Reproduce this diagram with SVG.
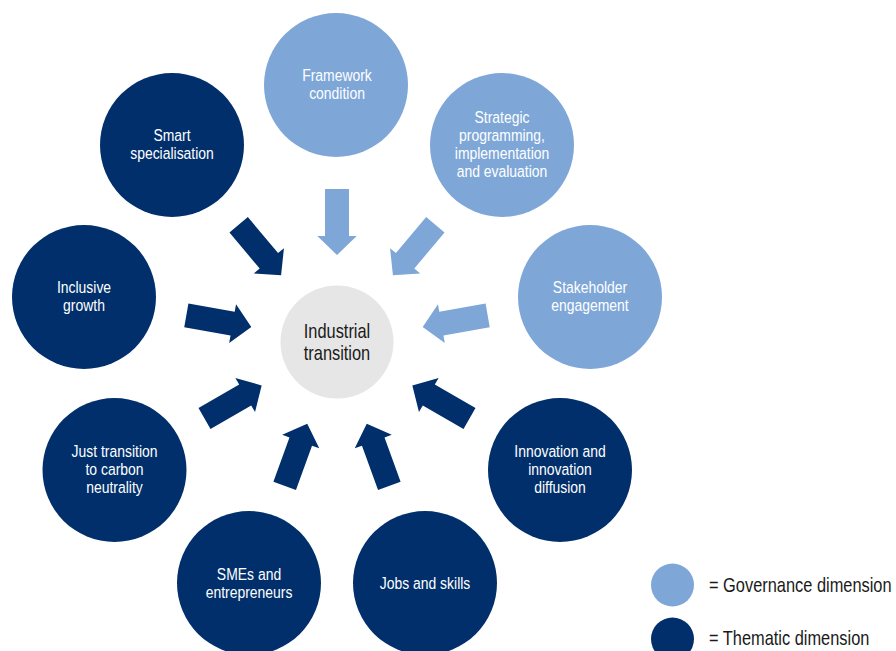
<svg xmlns="http://www.w3.org/2000/svg" xmlns:xlink="http://www.w3.org/1999/xlink" width="896" height="651" viewBox="0 0 896 651">
<style>
.dark{fill:#002F6C}
.light{fill:#7EA7D8}
.core{fill:#E6E6E6}
.t{font-family:"Liberation Sans",Arial,sans-serif;font-size:17px;fill:#FFFFFF;text-anchor:middle}
.tc{font-family:"Liberation Sans",Arial,sans-serif;font-size:20px;fill:#1A1A1A;text-anchor:middle}
.tl{font-family:"Liberation Sans",Arial,sans-serif;font-size:20px;fill:#1A1A1A}
</style>
<defs>
<path id="arw" d="M153,-12 L106,-12 L106,-19.7 L87,0 L106,19.7 L106,12 L153,12 Z"/>
</defs>
<rect width="896" height="651" fill="#FFFFFF"/>
<g id="connectors">
<use xlink:href="#arw" class="light" transform="translate(337,342) rotate(-90)"/>
<use xlink:href="#arw" class="light" transform="translate(337,342) rotate(-50)"/>
<use xlink:href="#arw" class="light" transform="translate(337,342) rotate(-10)"/>
<use xlink:href="#arw" class="dark" transform="translate(337,342) rotate(30)"/>
<use xlink:href="#arw" class="dark" transform="translate(337,342) rotate(70)"/>
<use xlink:href="#arw" class="dark" transform="translate(337,342) rotate(110)"/>
<use xlink:href="#arw" class="dark" transform="translate(337,342) rotate(150)"/>
<use xlink:href="#arw" class="dark" transform="translate(337,342) rotate(190)"/>
<use xlink:href="#arw" class="dark" transform="translate(337,342) rotate(230)"/>
</g>
<g id="node-center">
<circle class="core" cx="337" cy="342" r="56.5"/>
<text class="tc" transform="translate(337,338) scale(0.82,1)">Industrial</text>
<text class="tc" transform="translate(337,359.5) scale(0.82,1)">transition</text>
</g>
<g id="node-framework">
<circle class="light" cx="336" cy="85" r="72"/>
<text class="t" transform="translate(337,81) scale(0.82,1)">Framework</text>
<text class="t" transform="translate(337,99) scale(0.82,1)">condition</text>
</g>
<g id="node-strategic">
<circle class="light" cx="502" cy="145" r="72"/>
<text class="t" transform="translate(502,123) scale(0.82,1)">Strategic</text>
<text class="t" transform="translate(502,141) scale(0.82,1)">programming,</text>
<text class="t" transform="translate(502,159) scale(0.82,1)">implementation</text>
<text class="t" transform="translate(502,177) scale(0.82,1)">and evaluation</text>
</g>
<g id="node-stakeholder">
<circle class="light" cx="590" cy="297" r="72"/>
<text class="t" transform="translate(590,293) scale(0.82,1)">Stakeholder</text>
<text class="t" transform="translate(590,311) scale(0.82,1)">engagement</text>
</g>
<g id="node-innovation">
<circle class="dark" cx="560" cy="470" r="72"/>
<text class="t" transform="translate(560,457) scale(0.82,1)">Innovation and</text>
<text class="t" transform="translate(560,475) scale(0.82,1)">innovation</text>
<text class="t" transform="translate(560,493) scale(0.82,1)">diffusion</text>
</g>
<g id="node-jobs">
<circle class="dark" cx="425" cy="583" r="72"/>
<text class="t" transform="translate(425,589) scale(0.82,1)">Jobs and skills</text>
</g>
<g id="node-smes">
<circle class="dark" cx="249" cy="583" r="72"/>
<text class="t" transform="translate(249,580) scale(0.82,1)">SMEs and</text>
<text class="t" transform="translate(249,598) scale(0.82,1)">entrepreneurs</text>
</g>
<g id="node-just">
<circle class="dark" cx="114.5" cy="470" r="72"/>
<text class="t" transform="translate(114.5,457) scale(0.82,1)">Just transition</text>
<text class="t" transform="translate(114.5,475) scale(0.82,1)">to carbon</text>
<text class="t" transform="translate(114.5,493) scale(0.82,1)">neutrality</text>
</g>
<g id="node-inclusive">
<circle class="dark" cx="84" cy="297" r="72"/>
<text class="t" transform="translate(84,293) scale(0.82,1)">Inclusive</text>
<text class="t" transform="translate(84,311) scale(0.82,1)">growth</text>
</g>
<g id="node-smart">
<circle class="dark" cx="172" cy="145" r="72"/>
<text class="t" transform="translate(172,141) scale(0.82,1)">Smart</text>
<text class="t" transform="translate(172,159) scale(0.82,1)">specialisation</text>
</g>
<g id="legend">
<circle class="light" cx="672.5" cy="585" r="21.5"/>
<text class="tl" transform="translate(709,592) scale(0.82,1)">= Governance dimension</text>
<circle class="dark" cx="672.5" cy="639" r="21.5"/>
<text class="tl" transform="translate(709,645) scale(0.82,1)">= Thematic dimension</text>
</g>
</svg>
